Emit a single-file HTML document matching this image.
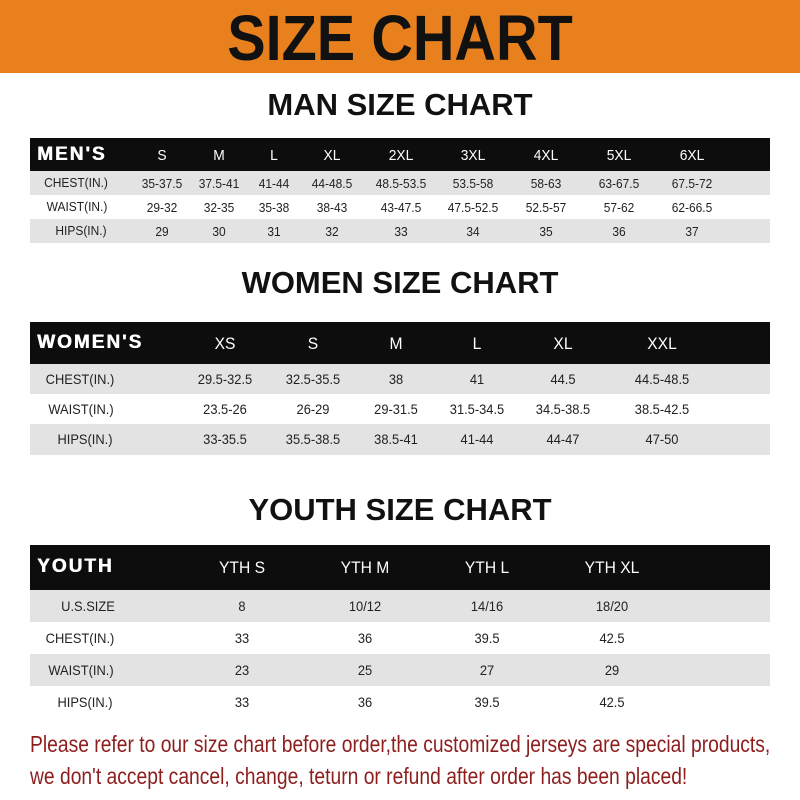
<!DOCTYPE html>
<html><head><meta charset="utf-8"><style>
*{margin:0;padding:0;box-sizing:border-box}
body{width:800px;height:800px;background:#fff;position:relative;overflow:hidden;font-family:"Liberation Sans",sans-serif;color:#222}
.banner{position:absolute;left:0;top:0;width:800px;height:73px;background:#e8801e}
.t{position:absolute;left:0;width:800px;text-align:center;font-weight:bold;color:#111;white-space:nowrap}
.t span{display:inline-block}
.bar{position:absolute;left:30px;width:740px;background:#0d0d0d}
.row{position:absolute;left:30px;width:740px}
.g{background:#e3e3e3}
.c{position:absolute;transform:translateX(-50%);white-space:nowrap;font-size:13px;color:#222}
.c span{display:inline-block;transform:scaleX(.92)}
.h{color:#fff;font-size:15px}
.lab{position:absolute;left:37px;color:#fff;font-weight:900;font-size:19px;letter-spacing:2px;white-space:nowrap;text-shadow:0.6px 0 0 #fff}
.red{position:absolute;left:30px;color:#8e1e1e;font-size:23px;white-space:nowrap;transform-origin:left top}
</style></head><body>
<div class="banner"></div>
<div class="t" style="top:4px;font-size:64px;line-height:68px"><span style="transform:scaleX(.9)">SIZE CHART</span></div>
<div class="t" style="top:88px;font-size:31px;line-height:34px"><span>MAN SIZE CHART</span></div>
<div class="t" style="top:266px;font-size:31px;line-height:34px"><span>WOMEN SIZE CHART</span></div>
<div class="t" style="top:493px;font-size:31px;line-height:34px"><span>YOUTH SIZE CHART</span></div>

<div class="bar" style="top:138px;height:33px"></div>
<div class="row g" style="top:171px;height:24px"></div>
<div class="row g" style="top:219px;height:24px"></div>
<div class="lab" style="top:144px">MEN'S</div>

<div class="bar" style="top:322px;height:42px"></div>
<div class="row g" style="top:364px;height:30px"></div>
<div class="row g" style="top:424px;height:31px"></div>
<div class="lab" style="top:332px">WOMEN'S</div>

<div class="bar" style="top:545px;height:45px"></div>
<div class="row g" style="top:590px;height:32px"></div>
<div class="row g" style="top:654px;height:32px"></div>
<div class="lab" style="top:556px">YOUTH</div>

<div class="red" style="top:731px;transform:scaleX(.838)">Please refer to our size chart before order,the customized jerseys are special products,</div>
<div class="red" style="top:763px;transform:scaleX(.838)">we don't accept cancel, change, teturn or refund after order has been placed!</div>

<div class="c h" style="left:162px;top:147px"><span>S</span></div>
<div class="c h" style="left:219px;top:147px"><span>M</span></div>
<div class="c h" style="left:274px;top:147px"><span>L</span></div>
<div class="c h" style="left:332px;top:147px"><span>XL</span></div>
<div class="c h" style="left:401px;top:147px"><span>2XL</span></div>
<div class="c h" style="left:473px;top:147px"><span>3XL</span></div>
<div class="c h" style="left:546px;top:147px"><span>4XL</span></div>
<div class="c h" style="left:619px;top:147px"><span>5XL</span></div>
<div class="c h" style="left:692px;top:147px"><span>6XL</span></div>

<div class="c" style="left:76px;top:175px"><span>CHEST(IN.)</span></div>
<div class="c" style="left:162px;top:176px"><span>35-37.5</span></div>
<div class="c" style="left:219px;top:176px"><span>37.5-41</span></div>
<div class="c" style="left:274px;top:176px"><span>41-44</span></div>
<div class="c" style="left:332px;top:176px"><span>44-48.5</span></div>
<div class="c" style="left:401px;top:176px"><span>48.5-53.5</span></div>
<div class="c" style="left:473px;top:176px"><span>53.5-58</span></div>
<div class="c" style="left:546px;top:176px"><span>58-63</span></div>
<div class="c" style="left:619px;top:176px"><span>63-67.5</span></div>
<div class="c" style="left:692px;top:176px"><span>67.5-72</span></div>

<div class="c" style="left:77px;top:199px"><span>WAIST(IN.)</span></div>
<div class="c" style="left:162px;top:200px"><span>29-32</span></div>
<div class="c" style="left:219px;top:200px"><span>32-35</span></div>
<div class="c" style="left:274px;top:200px"><span>35-38</span></div>
<div class="c" style="left:332px;top:200px"><span>38-43</span></div>
<div class="c" style="left:401px;top:200px"><span>43-47.5</span></div>
<div class="c" style="left:473px;top:200px"><span>47.5-52.5</span></div>
<div class="c" style="left:546px;top:200px"><span>52.5-57</span></div>
<div class="c" style="left:619px;top:200px"><span>57-62</span></div>
<div class="c" style="left:692px;top:200px"><span>62-66.5</span></div>

<div class="c" style="left:81px;top:223px"><span>HIPS(IN.)</span></div>
<div class="c" style="left:162px;top:224px"><span>29</span></div>
<div class="c" style="left:219px;top:224px"><span>30</span></div>
<div class="c" style="left:274px;top:224px"><span>31</span></div>
<div class="c" style="left:332px;top:224px"><span>32</span></div>
<div class="c" style="left:401px;top:224px"><span>33</span></div>
<div class="c" style="left:473px;top:224px"><span>34</span></div>
<div class="c" style="left:546px;top:224px"><span>35</span></div>
<div class="c" style="left:619px;top:224px"><span>36</span></div>
<div class="c" style="left:692px;top:224px"><span>37</span></div>

<div class="c h" style="left:225px;top:334px;font-size:17px"><span>XS</span></div>
<div class="c h" style="left:313px;top:334px;font-size:17px"><span>S</span></div>
<div class="c h" style="left:396px;top:334px;font-size:17px"><span>M</span></div>
<div class="c h" style="left:477px;top:334px;font-size:17px"><span>L</span></div>
<div class="c h" style="left:563px;top:334px;font-size:17px"><span>XL</span></div>
<div class="c h" style="left:662px;top:334px;font-size:17px"><span>XXL</span></div>

<div class="c" style="left:80px;top:371px;font-size:14px"><span>CHEST(IN.)</span></div>
<div class="c" style="left:225px;top:371px;font-size:14px"><span>29.5-32.5</span></div>
<div class="c" style="left:313px;top:371px;font-size:14px"><span>32.5-35.5</span></div>
<div class="c" style="left:396px;top:371px;font-size:14px"><span>38</span></div>
<div class="c" style="left:477px;top:371px;font-size:14px"><span>41</span></div>
<div class="c" style="left:563px;top:371px;font-size:14px"><span>44.5</span></div>
<div class="c" style="left:662px;top:371px;font-size:14px"><span>44.5-48.5</span></div>

<div class="c" style="left:81px;top:401px;font-size:14px"><span>WAIST(IN.)</span></div>
<div class="c" style="left:225px;top:401px;font-size:14px"><span>23.5-26</span></div>
<div class="c" style="left:313px;top:401px;font-size:14px"><span>26-29</span></div>
<div class="c" style="left:396px;top:401px;font-size:14px"><span>29-31.5</span></div>
<div class="c" style="left:477px;top:401px;font-size:14px"><span>31.5-34.5</span></div>
<div class="c" style="left:563px;top:401px;font-size:14px"><span>34.5-38.5</span></div>
<div class="c" style="left:662px;top:401px;font-size:14px"><span>38.5-42.5</span></div>

<div class="c" style="left:85px;top:431px;font-size:14px"><span>HIPS(IN.)</span></div>
<div class="c" style="left:225px;top:431px;font-size:14px"><span>33-35.5</span></div>
<div class="c" style="left:313px;top:431px;font-size:14px"><span>35.5-38.5</span></div>
<div class="c" style="left:396px;top:431px;font-size:14px"><span>38.5-41</span></div>
<div class="c" style="left:477px;top:431px;font-size:14px"><span>41-44</span></div>
<div class="c" style="left:563px;top:431px;font-size:14px"><span>44-47</span></div>
<div class="c" style="left:662px;top:431px;font-size:14px"><span>47-50</span></div>

<div class="c h" style="left:242px;top:558px;font-size:17px"><span>YTH S</span></div>
<div class="c h" style="left:365px;top:558px;font-size:17px"><span>YTH M</span></div>
<div class="c h" style="left:487px;top:558px;font-size:17px"><span>YTH L</span></div>
<div class="c h" style="left:612px;top:558px;font-size:17px"><span>YTH XL</span></div>

<div class="c" style="left:88px;top:598px;font-size:14px"><span>U.S.SIZE</span></div>
<div class="c" style="left:242px;top:598px;font-size:14px"><span>8</span></div>
<div class="c" style="left:365px;top:598px;font-size:14px"><span>10/12</span></div>
<div class="c" style="left:487px;top:598px;font-size:14px"><span>14/16</span></div>
<div class="c" style="left:612px;top:598px;font-size:14px"><span>18/20</span></div>

<div class="c" style="left:80px;top:630px;font-size:14px"><span>CHEST(IN.)</span></div>
<div class="c" style="left:242px;top:630px;font-size:14px"><span>33</span></div>
<div class="c" style="left:365px;top:630px;font-size:14px"><span>36</span></div>
<div class="c" style="left:487px;top:630px;font-size:14px"><span>39.5</span></div>
<div class="c" style="left:612px;top:630px;font-size:14px"><span>42.5</span></div>

<div class="c" style="left:81px;top:662px;font-size:14px"><span>WAIST(IN.)</span></div>
<div class="c" style="left:242px;top:662px;font-size:14px"><span>23</span></div>
<div class="c" style="left:365px;top:662px;font-size:14px"><span>25</span></div>
<div class="c" style="left:487px;top:662px;font-size:14px"><span>27</span></div>
<div class="c" style="left:612px;top:662px;font-size:14px"><span>29</span></div>

<div class="c" style="left:85px;top:694px;font-size:14px"><span>HIPS(IN.)</span></div>
<div class="c" style="left:242px;top:694px;font-size:14px"><span>33</span></div>
<div class="c" style="left:365px;top:694px;font-size:14px"><span>36</span></div>
<div class="c" style="left:487px;top:694px;font-size:14px"><span>39.5</span></div>
<div class="c" style="left:612px;top:694px;font-size:14px"><span>42.5</span></div>
</body></html>
